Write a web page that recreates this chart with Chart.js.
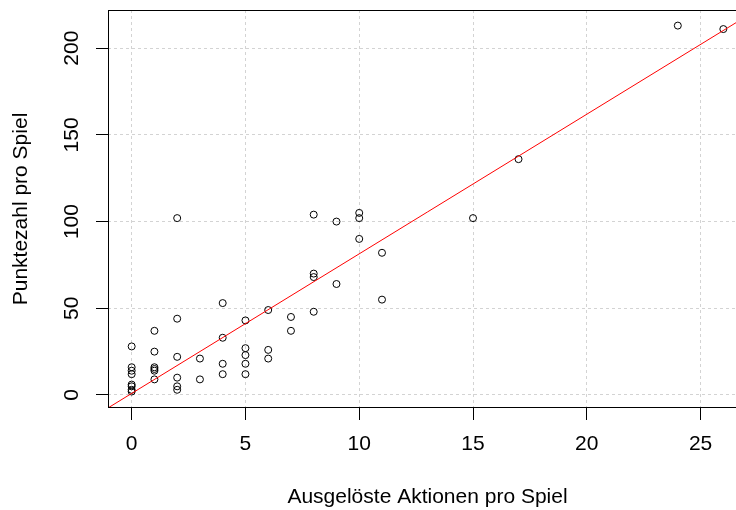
<!DOCTYPE html>
<html>
<head>
<meta charset="utf-8">
<title>Punktezahl vs. ausgelöste Aktionen</title>
<script src="https://cdn.jsdelivr.net/npm/chart.js@4/dist/chart.umd.min.js"></script>
<style>
  html, body { margin: 0; padding: 0; background: #fff; overflow: hidden; width: 736px; height: 510px; }
  #wrap { width: 780px; height: 510px; }
</style>
</head>
<body>
<div id="wrap"><canvas id="c" width="780" height="510"></canvas></div>
<script>
// Ausgelöste Aktionen pro Spiel (x) und Punktezahl pro Spiel (y), je Spieler
const actionsPerGame = [
  0, 0, 0, 0, 0, 0, 0, 0,
  1, 1, 1, 1, 1, 1,
  2, 2, 2, 2, 2, 2,
  3, 3,
  4, 4, 4, 4,
  5, 5, 5, 5, 5,
  6, 6, 6,
  7, 7,
  8, 8, 8, 8,
  9, 9,
  10, 10, 10,
  11, 11,
  15, 17, 24, 26
];
const pointsPerGame = [
  28, 16, 14, 12, 6, 5, 3, 2,
  37, 25, 16, 15, 14, 9,
  102, 44, 22, 10, 5, 3,
  21, 9,
  53, 33, 18, 12,
  43, 27, 23, 18, 12,
  49, 26, 21,
  45, 37,
  104, 70, 68, 48,
  100, 64,
  105, 102, 90,
  82, 55,
  102, 136, 213, 211
];

// Achsen
const xTicks = [0, 5, 10, 15, 20, 25];
const yTicks = [0, 50, 100, 150, 200];
const xRange = [-1.04, 27.04];
const yRange = [-7.5, 222];

// Regressionsgerade
const fitIntercept = 0.9;
const fitSlope = 8.05;

const scatterData = actionsPerGame.map((x, i) => ({ x: x, y: pointsPerGame[i] }));
const fitLine = xRange.map(x => ({ x: x, y: fitIntercept + fitSlope * x }));

const FONT = { family: "'Liberation Sans', Arial, sans-serif", size: 21 };

// Rahmen um den Plotbereich
const boxPlugin = {
  id: 'plotBox',
  afterDatasetsDraw(chart) {
    const { ctx, chartArea: a } = chart;
    ctx.save();
    ctx.strokeStyle = '#000';
    ctx.lineWidth = 1;
    const l = Math.round(a.left) + 0.5, t = Math.round(a.top) + 0.5;
    const r = Math.round(a.right) - 0.5, b = Math.round(a.bottom) - 0.5;
    ctx.strokeRect(l, t, r - l, b - t);
    ctx.restore();
  }
};

new Chart(document.getElementById('c'), {
  type: 'scatter',
  data: {
    datasets: [
      {
        type: 'line',
        data: fitLine,
        borderColor: '#ff0000',
        borderWidth: 1,
        pointRadius: 0,
        fill: false,
        order: 0
      },
      {
        data: scatterData,
        pointStyle: 'circle',
        pointRadius: 3.5,
        borderWidth: 1,
        borderColor: '#000',
        backgroundColor: 'rgba(0,0,0,0)',
        order: 1
      }
    ]
  },
  options: {
    responsive: false,
    animation: false,
    devicePixelRatio: 1,
    layout: { padding: { left: 0, top: 10, right: 33, bottom: 0 } },
    plugins: { legend: { display: false }, tooltip: { enabled: false } },
    scales: {
      x: {
        type: 'linear',
        min: xRange[0],
        max: xRange[1],
        afterBuildTicks: s => { s.ticks = xTicks.map(v => ({ value: v })); },
        afterFit: s => { s.height = 102; s.paddingLeft = 0; s.paddingRight = 0; },
        grid: {
          color: '#d3d3d3',
          lineWidth: 1,
          drawTicks: true,
          tickLength: 12,
          tickColor: '#000',
          tickWidth: 1,
          tickBorderDash: []
        },
        border: { display: false, dash: [3, 3] },
        ticks: {
          color: '#000',
          font: FONT,
          padding: 12,
          maxRotation: 0,
          autoSkip: false
        },
        title: {
          display: true,
          text: 'Ausgelöste Aktionen pro Spiel',
          color: '#000',
          font: FONT,
          padding: { top: 0, bottom: 0 }
        }
      },
      y: {
        type: 'linear',
        min: yRange[0],
        max: yRange[1],
        afterBuildTicks: s => { s.ticks = yTicks.map(v => ({ value: v })); },
        afterFit: s => { s.width = 108; s.paddingTop = 0; s.paddingBottom = 0; },
        grid: {
          color: '#d3d3d3',
          lineWidth: 1,
          drawTicks: true,
          tickLength: 12,
          tickColor: '#000',
          tickWidth: 1,
          tickBorderDash: []
        },
        border: { display: false, dash: [3, 3] },
        ticks: {
          color: '#000',
          font: FONT,
          padding: 6,
          minRotation: 90,
          maxRotation: 90,
          crossAlign: 'center',
          autoSkip: false
        },
        title: {
          display: true,
          text: 'Punktezahl pro Spiel',
          color: '#000',
          font: FONT,
          padding: { top: 9, bottom: 0 }
        }
      }
    }
  },
  plugins: [boxPlugin]
});
</script>
</body>
</html>
